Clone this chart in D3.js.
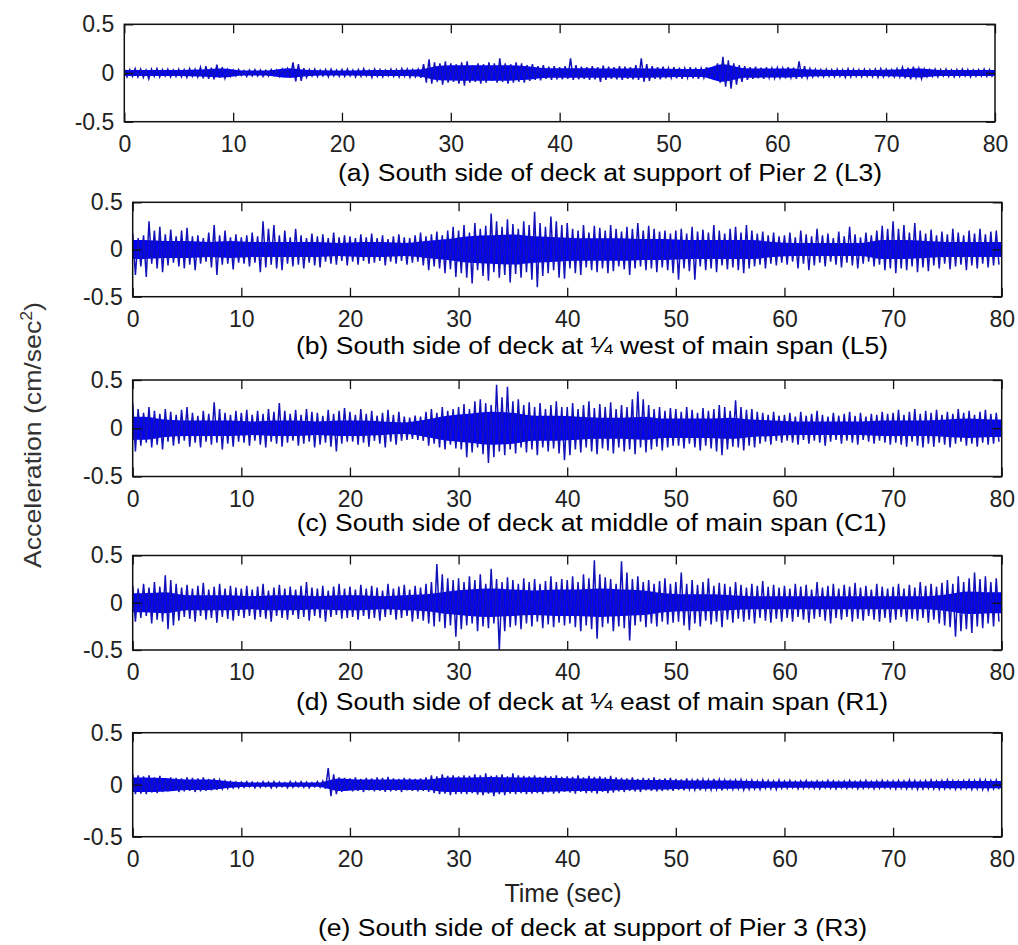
<!DOCTYPE html>
<html>
<head>
<meta charset="utf-8">
<script src="https://cdn.jsdelivr.net/npm/d3@7"></script>
<style>
  body { margin: 0; background: #fff; }
  svg { display: block; }
  .tick text { font-family: "Liberation Sans", Arial, sans-serif; fill: #222; }
</style>
</head>
<body>
<div id="chart"></div>
<script>
// each record: max and min in 0.5 s bins, plus the half-width of the solid core in 2 s bins,
// all read off the plots
const binStep = 0.5;
const coreStep = 2;
const xTicks = [0, 10, 20, 30, 40, 50, 60, 70, 80];
const yTicks = [-0.5, 0, 0.5];

const aHi = [
  .04,.035,.045,.04,.03,.04,.045,.035,.04,.03,.04,.035,.045,.04,.06,.07,.055,.085,.06,.035,
  .03,.035,.025,.03,.035,.03,.025,.035,.03,.04,.045,.11,.09,.05,.035,.04,.03,.035,.04,.03,
  .035,.04,.03,.035,.045,.03,.04,.035,.03,.04,.035,.045,.04,.035,.04,.09,.14,.11,.1,.12,
  .1,.09,.11,.12,.08,.1,.09,.11,.1,.15,.1,.09,.11,.1,.08,.09,.07,.08,.065,.07,
  .06,.07,.15,.08,.065,.06,.07,.06,.075,.065,.06,.07,.065,.06,.08,.15,.09,.07,.06,.065,
  .05,.06,.055,.05,.06,.055,.05,.06,.055,.1,.165,.13,.1,.08,.07,.06,.065,.055,.06,.05,
  .055,.05,.06,.055,.12,.07,.045,.04,.035,.04,.035,.04,.035,.045,.04,.035,.04,.035,.04,.045,
  .04,.035,.045,.06,.055,.065,.05,.04,.035,.04,.035,.04,.03,.035,.04,.035,.03,.035,.04,.035
];
const aLo = [
  -.04,-.035,-.04,-.045,-.06,-.035,-.04,-.03,-.04,-.035,-.04,-.045,-.035,-.04,-.055,-.06,-.065,-.05,-.055,-.035,
  -.03,-.025,-.035,-.03,-.03,-.035,-.03,-.025,-.035,-.03,-.05,-.085,-.08,-.045,-.03,-.035,-.03,-.04,-.03,-.035,
  -.035,-.03,-.04,-.035,-.03,-.045,-.035,-.04,-.03,-.035,-.04,-.035,-.045,-.04,-.05,-.1,-.11,-.09,-.12,-.1,
  -.09,-.11,-.13,-.1,-.09,-.11,-.1,-.08,-.1,-.09,-.11,-.1,-.09,-.1,-.08,-.07,-.075,-.06,-.07,-.065,
  -.065,-.06,-.07,-.065,-.06,-.07,-.065,-.09,-.07,-.06,-.065,-.07,-.06,-.065,-.07,-.09,-.08,-.06,-.065,-.055,
  -.05,-.055,-.06,-.05,-.055,-.06,-.05,-.055,-.06,-.1,-.14,-.16,-.12,-.09,-.07,-.06,-.055,-.06,-.05,-.055,
  -.05,-.055,-.05,-.06,-.055,-.05,-.04,-.035,-.04,-.035,-.04,-.035,-.045,-.04,-.035,-.04,-.035,-.04,-.045,-.04,
  -.035,-.04,-.04,-.055,-.065,-.05,-.06,-.04,-.035,-.04,-.03,-.035,-.04,-.035,-.03,-.04,-.035,-.03,-.035,-.04
];
const aCore = [
  .03,.03,.03,.035,.045,.025,.025,.05,.03,.025,
  .025,.03,.03,.035,.075,.08,.08,.08,.07,.05,
  .05,.05,.045,.05,.045,.04,.04,.09,.05,.045,
  .045,.035,.03,.03,.03,.035,.045,.03,.03,.03
];

const bHi = [
  .17,.12,.15,.3,.2,.24,.16,.21,.14,.2,.23,.14,.15,.12,.18,.26,.15,.2,.13,.16,
  .13,.15,.18,.14,.3,.22,.26,.15,.2,.13,.22,.15,.12,.17,.14,.16,.12,.18,.13,.15,
  .14,.12,.16,.13,.17,.12,.15,.11,.14,.16,.13,.12,.15,.18,.14,.16,.19,.15,.2,.24,
  .2,.26,.18,.28,.22,.25,.38,.3,.24,.32,.27,.22,.3,.26,.4,.28,.24,.35,.3,.26,
  .28,.22,.2,.26,.18,.25,.23,.2,.26,.22,.19,.24,.22,.28,.2,.25,.22,.19,.2,.17,
  .2,.22,.17,.24,.19,.21,.18,.26,.2,.17,.22,.24,.18,.26,.2,.17,.19,.15,.18,.14,
  .15,.18,.13,.2,.16,.14,.22,.15,.17,.12,.19,.14,.24,.16,.13,.18,.15,.2,.25,.22,
  .3,.22,.26,.18,.28,.2,.17,.21,.15,.19,.16,.22,.18,.15,.2,.17,.22,.16,.19,.2
];
const bLo = [
  -.27,-.18,-.29,-.15,-.2,-.24,-.17,-.14,-.18,-.2,-.16,-.22,-.15,-.13,-.19,-.27,-.16,-.15,-.21,-.14,
  -.15,-.18,-.14,-.24,-.19,-.16,-.2,-.22,-.15,-.18,-.16,-.2,-.14,-.17,-.19,-.13,-.15,-.16,-.12,-.17,
  -.13,-.16,-.12,-.15,-.14,-.12,-.17,-.13,-.15,-.12,-.16,-.14,-.13,-.17,-.22,-.18,-.2,-.25,-.21,-.29,
  -.25,-.3,-.36,-.22,-.28,-.33,-.24,-.3,-.27,-.35,-.26,-.3,-.24,-.32,-.4,-.28,-.25,-.22,-.3,-.31,
  -.2,-.25,-.27,-.19,-.22,-.24,-.2,-.25,-.23,-.18,-.21,-.27,-.2,-.18,-.22,-.2,-.24,-.19,-.22,-.25,
  -.32,-.2,-.23,-.32,-.18,-.22,-.2,-.24,-.17,-.21,-.19,-.22,-.25,-.2,-.18,-.16,-.2,-.15,-.17,-.14,
  -.16,-.13,-.2,-.15,-.22,-.17,-.14,-.18,-.13,-.16,-.19,-.14,-.17,-.2,-.15,-.13,-.18,-.16,-.22,-.2,
  -.25,-.2,-.22,-.18,-.24,-.19,-.23,-.17,-.2,-.15,-.21,-.18,-.16,-.22,-.17,-.2,-.15,-.19,-.17,-.16
];
const bCore = [
  .1,.09,.09,.08,.09,.08,.08,.08,.08,.07,
  .08,.08,.07,.09,.11,.14,.15,.16,.14,.13,
  .12,.12,.12,.11,.11,.1,.1,.1,.1,.08,
  .07,.07,.07,.07,.1,.1,.09,.08,.08,.08
];

const cHi = [
  .26,.2,.16,.22,.18,.15,.2,.17,.14,.19,.22,.16,.13,.18,.15,.27,.2,.16,.14,.18,
  .16,.19,.14,.18,.15,.2,.17,.26,.18,.15,.19,.14,.2,.17,.16,.13,.19,.15,.18,.21,
  .17,.14,.2,.15,.18,.13,.16,.19,.14,.17,.12,.11,.13,.12,.17,.2,.16,.22,.18,.2,
  .22,.25,.2,.28,.3,.26,.24,.45,.32,.43,.28,.3,.24,.27,.22,.26,.2,.24,.28,.22,
  .22,.26,.2,.24,.28,.21,.25,.22,.27,.2,.24,.22,.3,.38,.3,.24,.2,.22,.18,.21,
  .2,.17,.22,.19,.16,.21,.18,.2,.24,.22,.18,.29,.22,.19,.2,.17,.16,.14,.17,.13,
  .14,.16,.12,.17,.13,.15,.18,.14,.12,.16,.13,.15,.17,.13,.16,.12,.15,.14,.17,.15,
  .16,.19,.14,.17,.2,.15,.18,.16,.19,.14,.17,.15,.2,.16,.18,.14,.17,.19,.15,.16
];
const cLo = [
  -.24,-.18,-.15,-.2,-.17,-.22,-.14,-.18,-.16,-.13,-.19,-.15,-.2,-.14,-.17,-.15,-.22,-.16,-.19,-.14,
  -.15,-.18,-.13,-.17,-.2,-.14,-.16,-.19,-.15,-.13,-.18,-.16,-.14,-.2,-.17,-.15,-.19,-.24,-.16,-.14,
  -.14,-.17,-.15,-.19,-.13,-.16,-.2,-.14,-.17,-.13,-.12,-.11,-.12,-.13,-.18,-.16,-.2,-.22,-.17,-.21,
  -.22,-.3,-.25,-.2,-.27,-.36,-.3,-.24,-.28,-.22,-.26,-.2,-.25,-.22,-.28,-.2,-.24,-.21,-.26,-.33,
  -.28,-.22,-.25,-.2,-.24,-.27,-.21,-.23,-.26,-.2,-.24,-.22,-.27,-.2,-.25,-.22,-.19,-.23,-.2,-.18,
  -.18,-.21,-.16,-.2,-.23,-.18,-.21,-.24,-.28,-.22,-.19,-.2,-.23,-.18,-.2,-.16,-.14,-.17,-.13,-.15,
  -.13,-.15,-.17,-.12,-.16,-.13,-.15,-.18,-.14,-.12,-.16,-.13,-.15,-.17,-.12,-.14,-.16,-.13,-.15,-.17,
  -.15,-.17,-.19,-.14,-.18,-.2,-.16,-.19,-.15,-.17,-.2,-.16,-.14,-.18,-.16,-.19,-.15,-.17,-.16,-.14
];
const cCore = [
  .12,.09,.08,.08,.08,.07,.08,.08,.07,.08,
  .08,.07,.06,.09,.13,.15,.17,.16,.13,.13,
  .12,.11,.11,.12,.1,.1,.1,.11,.09,.08,
  .07,.07,.07,.07,.08,.08,.08,.09,.1,.09
];

const dHi = [
  .18,.15,.2,.16,.22,.17,.29,.24,.2,.16,.19,.15,.18,.21,.14,.17,.2,.15,.18,.16,
  .15,.18,.14,.17,.2,.13,.16,.19,.15,.17,.14,.18,.22,.16,.15,.18,.13,.17,.2,.15,
  .17,.14,.19,.15,.18,.16,.13,.2,.15,.17,.19,.14,.18,.16,.2,.22,.41,.3,.26,.24,
  .26,.22,.28,.24,.3,.2,.36,.25,.22,.27,.24,.2,.26,.22,.25,.2,.23,.28,.22,.25,
  .24,.28,.22,.3,.26,.45,.3,.27,.25,.2,.44,.32,.25,.28,.22,.24,.2,.23,.26,.2,
  .22,.32,.2,.24,.19,.22,.26,.18,.21,.2,.17,.22,.19,.16,.2,.18,.23,.17,.19,.16,
  .18,.15,.2,.17,.19,.14,.22,.16,.18,.2,.15,.19,.17,.21,.16,.18,.14,.2,.17,.15,
  .17,.2,.15,.19,.16,.22,.18,.2,.17,.21,.24,.2,.28,.22,.26,.32,.25,.28,.22,.26
];
const dLo = [
  -.2,-.16,-.14,-.22,-.18,-.2,-.28,-.24,-.19,-.15,-.17,-.2,-.14,-.18,-.16,-.21,-.15,-.17,-.19,-.14,
  -.16,-.14,-.18,-.15,-.17,-.2,-.14,-.16,-.18,-.13,-.17,-.15,-.19,-.14,-.16,-.2,-.15,-.13,-.17,-.16,
  -.15,-.18,-.14,-.17,-.16,-.19,-.15,-.13,-.18,-.16,-.14,-.2,-.17,-.19,-.22,-.25,-.2,-.27,-.24,-.36,
  -.28,-.24,-.22,-.3,-.25,-.27,-.22,-.5,-.3,-.26,-.24,-.28,-.22,-.25,-.2,-.27,-.23,-.26,-.21,-.24,
  -.22,-.26,-.3,-.24,-.28,-.38,-.26,-.22,-.3,-.25,-.27,-.4,-.24,-.2,-.26,-.22,-.25,-.2,-.23,-.21,
  -.2,-.24,-.29,-.22,-.25,-.19,-.23,-.2,-.26,-.18,-.21,-.17,-.2,-.18,-.22,-.16,-.19,-.21,-.17,-.2,
  -.16,-.2,-.15,-.18,-.21,-.17,-.15,-.19,-.22,-.16,-.18,-.15,-.2,-.17,-.19,-.14,-.18,-.2,-.16,-.21,
  -.18,-.15,-.2,-.17,-.19,-.16,-.21,-.18,-.22,-.24,-.26,-.36,-.3,-.28,-.32,-.25,-.27,-.22,-.25,-.2
];
const dCore = [
  .1,.11,.08,.08,.08,.07,.08,.08,.07,.08,
  .08,.07,.08,.09,.12,.14,.15,.14,.13,.14,
  .14,.15,.14,.13,.1,.09,.09,.08,.07,.07,
  .07,.07,.07,.07,.07,.07,.07,.09,.12,.11
];

const eHi = [
  .1,.09,.08,.09,.07,.085,.06,.07,.065,.06,.07,.065,.06,.07,.055,.06,.045,.035,.03,.025,
  .025,.03,.025,.02,.03,.025,.03,.025,.02,.03,.025,.03,.025,.02,.03,.035,.16,.1,.07,.065,
  .06,.07,.055,.065,.06,.07,.065,.075,.06,.055,.065,.06,.055,.06,.07,.09,.08,.1,.085,.09,
  .08,.09,.085,.1,.09,.11,.085,.09,.1,.08,.11,.09,.085,.08,.09,.075,.085,.08,.09,.075,
  .08,.075,.09,.07,.085,.075,.08,.07,.085,.07,.065,.06,.07,.055,.065,.06,.07,.055,.06,.065,
  .055,.05,.06,.045,.055,.05,.045,.055,.05,.045,.04,.045,.05,.04,.045,.035,.045,.04,.035,.045,
  .035,.04,.03,.035,.04,.03,.035,.03,.04,.035,.03,.035,.04,.03,.035,.04,.03,.035,.04,.035,
  .035,.04,.035,.045,.04,.035,.04,.045,.035,.04,.045,.04,.035,.04,.045,.04,.05,.045,.04,.045
];
const eLo = [
  -.09,-.085,-.09,-.075,-.08,-.07,-.065,-.06,-.07,-.065,-.06,-.07,-.065,-.06,-.055,-.05,-.04,-.035,-.03,-.03,
  -.025,-.02,-.03,-.025,-.02,-.03,-.025,-.02,-.03,-.025,-.02,-.025,-.03,-.02,-.025,-.04,-.11,-.09,-.07,-.06,
  -.065,-.06,-.07,-.055,-.065,-.06,-.07,-.065,-.06,-.07,-.055,-.06,-.065,-.06,-.07,-.08,-.09,-.085,-.1,-.09,
  -.085,-.09,-.08,-.095,-.1,-.085,-.11,-.09,-.1,-.085,-.09,-.08,-.09,-.085,-.08,-.09,-.075,-.085,-.08,-.07,
  -.075,-.085,-.07,-.08,-.075,-.085,-.07,-.08,-.075,-.065,-.07,-.06,-.065,-.07,-.055,-.06,-.065,-.06,-.055,-.06,
  -.05,-.055,-.045,-.05,-.055,-.045,-.05,-.045,-.055,-.04,-.045,-.04,-.05,-.045,-.04,-.045,-.035,-.04,-.045,-.035,
  -.035,-.03,-.04,-.035,-.03,-.035,-.04,-.03,-.035,-.04,-.03,-.035,-.03,-.04,-.035,-.03,-.04,-.035,-.03,-.035,
  -.04,-.035,-.04,-.035,-.045,-.04,-.035,-.04,-.045,-.04,-.035,-.045,-.04,-.035,-.045,-.04,-.045,-.05,-.04,-.045
];
const eCore = [
  .07,.065,.05,.05,.03,.02,.02,.02,.02,.06,
  .05,.05,.05,.05,.07,.07,.075,.07,.07,.065,
  .06,.06,.05,.045,.045,.04,.04,.04,.035,.03,
  .03,.03,.03,.03,.03,.03,.03,.035,.035,.035
];

const captions = [
  "(a) South side of deck at support of Pier 2 (L3)",
  "(b) South side of deck at \u00bc west of main span (L5)",
  "(c) South side of deck at middle of main span (C1)",
  "(d) South side of deck at \u00bc east of main span (R1)",
  "(e) South side of deck at support of Pier 3 (R3)"
];

// panel boxes and caption placement (pixels)
const panels = [
  { hi: aHi, lo: aLo, core: aCore, left: 124.3, right: 995,    top: 24.3,  bottom: 121.7, capX: 610,   capY: 181, capW: 544 },
  { hi: bHi, lo: bLo, core: bCore, left: 132.7, right: 1001.7, top: 202.3, bottom: 296.7, capX: 592,   capY: 354, capW: 592 },
  { hi: cHi, lo: cLo, core: cCore, left: 132.7, right: 1001.7, top: 380,   bottom: 476.5, capX: 591.7, capY: 531, capW: 590 },
  { hi: dHi, lo: dLo, core: dCore, left: 132.7, right: 1001.7, top: 555.5, bottom: 650,   capX: 592,   capY: 710, capW: 592 },
  { hi: eHi, lo: eLo, core: eCore, left: 132.7, right: 1001.7, top: 732.7, bottom: 836.7, capX: 592.5, capY: 936, capW: 549 }
];

const width = 1018;
const height = 945;

const svg = d3.select("#chart")
  .append("svg")
  .attr("width", width)
  .attr("height", height);

const line = d3.line();

panels.forEach((p, k) => {
  const x = d3.scaleLinear().domain([0, 80]).range([p.left, p.right]);
  const y = d3.scaleLinear().domain([-0.5, 0.5]).range([p.bottom, p.top]);

  const g = svg.append("g").attr("class", "panel");

  g.append("clipPath")
    .attr("id", "clip" + k)
    .append("rect")
    .attr("x", p.left).attr("y", p.top)
    .attr("width", p.right - p.left).attr("height", p.bottom - p.top);

  const plot = g.append("g").attr("clip-path", `url(#clip${k})`);

  // solid core of the record, one point in the middle of each 2 s bin
  const corePts = [[0, p.core[0]]]
    .concat(p.core.map((v, i) => [i * coreStep + coreStep / 2, v]))
    .concat([[80, p.core[p.core.length - 1]]]);
  const coreArea = d3.area()
    .curve(d3.curveMonotoneX)
    .x(d => x(d[0]))
    .y0(d => y(-d[1]))
    .y1(d => y(d[1]));
  plot.append("path")
    .attr("d", coreArea(corePts))
    .attr("fill", "#0000ff");

  // spikes: zigzag through max / min of every bin
  const pts = [];
  p.hi.forEach((v, i) => {
    pts.push([x(i * binStep), y(v)]);
    pts.push([x(i * binStep + binStep / 2), y(p.lo[i])]);
  });
  plot.append("path")
    .attr("d", line(pts))
    .attr("fill", "none")
    .attr("stroke", "#1212b8")
    .attr("stroke-width", 1.5)
    .attr("stroke-linejoin", "miter");

  const tickFont = 23;

  const xb = g.append("g")
    .attr("transform", `translate(0,${p.bottom})`)
    .call(d3.axisBottom(x).tickValues(xTicks).tickSizeInner(-9).tickSizeOuter(0).tickPadding(14).tickFormat(d => d));
  const xt = g.append("g")
    .attr("transform", `translate(0,${p.top})`)
    .call(d3.axisTop(x).tickValues(xTicks).tickSizeInner(-9).tickSizeOuter(0).tickFormat(""));
  const yl = g.append("g")
    .attr("transform", `translate(${p.left},0)`)
    .call(d3.axisLeft(y).tickValues(yTicks).tickSizeInner(-9).tickSizeOuter(0).tickPadding(10).tickFormat(d => String(d)));
  const yr = g.append("g")
    .attr("transform", `translate(${p.right},0)`)
    .call(d3.axisRight(y).tickValues(yTicks).tickSizeInner(-9).tickSizeOuter(0).tickFormat(""));

  [xb, xt, yl, yr].forEach(a => {
    a.select(".domain").remove();
    a.selectAll("line").attr("stroke", "#111").attr("stroke-width", 1.3);
    a.selectAll("text").attr("font-size", tickFont);
  });

  g.append("rect")
    .attr("x", p.left).attr("y", p.top)
    .attr("width", p.right - p.left).attr("height", p.bottom - p.top)
    .attr("fill", "none")
    .attr("stroke", "#111")
    .attr("stroke-width", 1.5);

  g.append("text")
    .attr("x", p.capX)
    .attr("y", p.capY)
    .attr("text-anchor", "middle")
    .attr("font-family", "Liberation Sans, Arial, sans-serif")
    .attr("font-size", 23)
    .attr("fill", "#000")
    .attr("textLength", p.capW)
    .attr("lengthAdjust", "spacingAndGlyphs")
    .text(captions[k]);
});

// shared axis titles
const yTitle = svg.append("text")
  .attr("transform", "translate(41,435) rotate(-90)")
  .attr("text-anchor", "middle")
  .attr("font-family", "Liberation Sans, Arial, sans-serif")
  .attr("font-size", 24)
  .attr("fill", "#333")
  .attr("textLength", 266)
  .attr("lengthAdjust", "spacingAndGlyphs");
yTitle.append("tspan").text("Acceleration (cm/sec");
yTitle.append("tspan").attr("dy", -9).attr("font-size", 16).text("2");
yTitle.append("tspan").attr("dy", 9).text(")");

svg.append("text")
  .attr("x", 563)
  .attr("y", 902)
  .attr("text-anchor", "middle")
  .attr("font-family", "Liberation Sans, Arial, sans-serif")
  .attr("font-size", 25)
  .attr("fill", "#222")
  .text("Time (sec)");
</script>
</body>
</html>
